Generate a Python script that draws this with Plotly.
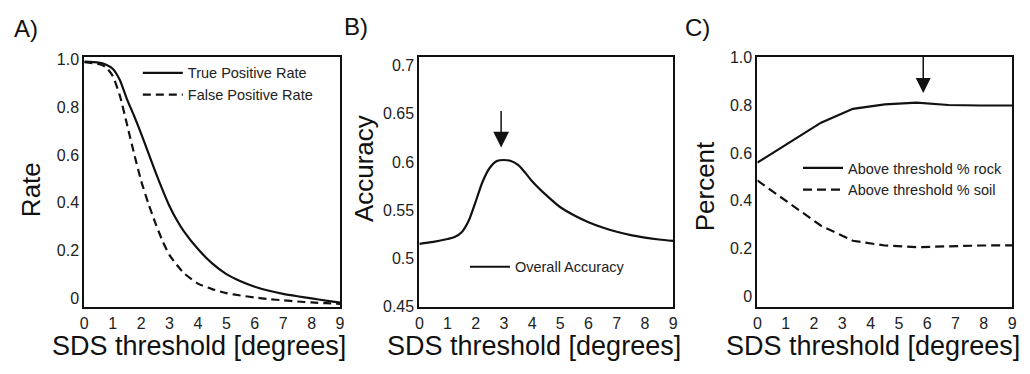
import plotly.graph_objects as go

# ---------------- data ----------------
x_a = [0, 0.5, 0.75, 1, 1.25, 1.5, 1.75, 2, 2.25, 2.5, 2.75, 3, 3.25, 3.5, 4,
       4.5, 5, 5.5, 6, 6.5, 7, 7.5, 8, 8.5, 9]
tpr = [0.992, 0.988, 0.98, 0.962, 0.915, 0.835, 0.765, 0.69, 0.61, 0.53, 0.455,
       0.385, 0.328, 0.28, 0.205, 0.145, 0.10, 0.07, 0.047, 0.03, 0.017, 0.007,
       -0.002, -0.011, -0.02]
fpr = [0.99, 0.982, 0.97, 0.932, 0.85, 0.73, 0.607, 0.492, 0.398, 0.315, 0.24,
       0.18, 0.14, 0.105, 0.06, 0.037, 0.02, 0.01, 0.002, -0.005, -0.01, -0.015,
       -0.019, -0.022, -0.025]

x_b = [0, 0.5, 1, 1.25, 1.5, 1.75, 2, 2.25, 2.5, 2.75, 3, 3.25, 3.5, 3.75, 4,
       4.5, 5, 5.5, 6, 6.5, 7, 7.5, 8, 8.5, 9]
acc = [0.515, 0.517, 0.52, 0.522, 0.527, 0.539, 0.559, 0.58, 0.594, 0.601, 0.602,
       0.601, 0.597, 0.589, 0.58, 0.5655, 0.553, 0.5445, 0.5375, 0.532, 0.5275,
       0.524, 0.5215, 0.5195, 0.518]

x_c = [0, 1.125, 2.25, 3.375, 4.5, 5.625, 6.75, 7.875, 9]
rock = [0.56, 0.645, 0.728, 0.786, 0.805, 0.812, 0.802, 0.80, 0.80]
soil = [0.485, 0.39, 0.295, 0.232, 0.212, 0.205, 0.21, 0.212, 0.213]

x_ticks = [0, 1, 2, 3, 4, 5, 6, 7, 8, 9]
x_ticktext = ["0", "1", "2", "3", "4", "5", "6", "7", "8", "9"]
rate_ticks = [0, 0.2, 0.4, 0.6, 0.8, 1.0]
rate_ticktext = ["0", "0.2", "0.4", "0.6", "0.8", "1.0"]
acc_ticks = [0.45, 0.5, 0.55, 0.6, 0.65, 0.7]
acc_ticktext = ["0.45", "0.5", "0.55", "0.6", "0.65", "0.7"]

arrow_b = (2.9, 0.615)
arrow_c = (5.86, 0.852)

# ---------------- figure ----------------
W, H = 1030, 374
FONT = "Liberation Sans"
BLACK = "#111111"

fig = go.Figure()

fig.add_trace(go.Scatter(x=x_a, y=tpr, mode="lines", name="True Positive Rate",
                         line=dict(color=BLACK, width=2.2, shape="spline", smoothing=0.6),
                         xaxis="x", yaxis="y", legend="legend"))
fig.add_trace(go.Scatter(x=x_a, y=fpr, mode="lines", name="False Positive Rate",
                         line=dict(color=BLACK, width=2.2, dash="8px,5px", shape="spline", smoothing=0.6),
                         xaxis="x", yaxis="y", legend="legend"))
fig.add_trace(go.Scatter(x=x_b, y=acc, mode="lines", name="Overall Accuracy",
                         line=dict(color=BLACK, width=2.2, shape="spline", smoothing=0.8),
                         xaxis="x2", yaxis="y2", legend="legend2"))
fig.add_trace(go.Scatter(x=x_c, y=rock, mode="lines", name="Above threshold % rock",
                         line=dict(color=BLACK, width=2.2),
                         xaxis="x3", yaxis="y3", legend="legend3"))
fig.add_trace(go.Scatter(x=x_c, y=soil, mode="lines", name="Above threshold % soil",
                         line=dict(color=BLACK, width=2.2, dash="9px,5px"),
                         xaxis="x3", yaxis="y3", legend="legend3"))

def px_x(p):
    return p / W

def px_y(p):
    return 1 - p / H

ydom = [px_y(313), px_y(52)]
tickfont = dict(family=FONT, size=16, color="#222222")

common_x = dict(showgrid=False, zeroline=False, showline=True, mirror=True,
                linecolor=BLACK, linewidth=2, ticks="", tickfont=tickfont,
                tickvals=x_ticks, ticktext=x_ticktext, range=[0, 9])
common_y = dict(showgrid=False, zeroline=False, showline=True, mirror=True,
                linecolor=BLACK, linewidth=2, ticks="", tickfont=tickfont)

legfont = dict(family=FONT, size=14.5, color="#222222")

fig.update_layout(
    width=W, height=H,
    margin=dict(l=0, r=0, t=0, b=0),
    paper_bgcolor="white", plot_bgcolor="white",
    font=dict(family=FONT, color=BLACK),
    xaxis=dict(domain=[px_x(81), px_x(339)], anchor="y", **common_x),
    yaxis=dict(domain=ydom, anchor="x", range=[-0.04, 1.012],
               tickvals=rate_ticks, ticktext=rate_ticktext, **common_y),
    xaxis2=dict(domain=[px_x(419), px_x(675)], anchor="y2", **common_x),
    yaxis2=dict(domain=ydom, anchor="x2", range=[0.449, 0.709],
                tickvals=acc_ticks, ticktext=acc_ticktext, **common_y),
    xaxis3=dict(domain=[px_x(760), px_x(1017)], anchor="y3", **common_x),
    yaxis3=dict(domain=ydom, anchor="x3", range=[-0.048, 1.004],
                tickvals=rate_ticks, ticktext=rate_ticktext, **common_y),
    legend=dict(x=px_x(135), y=px_y(52), xanchor="left", yanchor="top",
                bgcolor="rgba(0,0,0,0)", font=legfont, itemwidth=40),
    legend2=dict(x=px_x(465), y=px_y(254), xanchor="left", yanchor="top",
                 bgcolor="rgba(0,0,0,0)", font=legfont, itemwidth=40),
    legend3=dict(x=px_x(801), y=px_y(151), xanchor="left", yanchor="top",
                 bgcolor="rgba(0,0,0,0)", font=legfont, itemwidth=40),
    showlegend=True,
)

ann = []
# panel labels
for lbl, cx, cy in [("A)", 22, 22), ("B)", 355, 20), ("C)", 700, 21)]:
    ann.append(dict(text=lbl, x=px_x(cx), y=px_y(cy), xref="paper", yref="paper",
                    showarrow=False, font=dict(family=FONT, size=24, color=BLACK),
                    xanchor="center", yanchor="middle"))
# x titles
for cx in [197, 535, 877]:
    ann.append(dict(text="SDS threshold [degrees]", x=px_x(cx), y=px_y(353),
                    xref="paper", yref="paper", showarrow=False,
                    font=dict(family=FONT, size=27, color=BLACK),
                    xanchor="center", yanchor="middle"))
# y titles
for t, cx, cy in [("Rate", 28, 190), ("Accuracy", 363, 168), ("Percent", 707, 187)]:
    ann.append(dict(text=t, x=px_x(cx), y=px_y(cy), xref="paper", yref="paper",
                    showarrow=False, textangle=-90,
                    font=dict(family=FONT, size=26, color=BLACK),
                    xanchor="center", yanchor="middle"))
# arrows
ann.append(dict(x=arrow_b[0], y=arrow_b[1], xref="x2", yref="y2", text="",
                showarrow=True, arrowhead=2, arrowsize=2.1, arrowwidth=1.5,
                arrowcolor=BLACK, ax=0, ay=-38))
ann.append(dict(x=arrow_c[0], y=arrow_c[1], xref="x3", yref="y3", text="",
                showarrow=True, arrowhead=2, arrowsize=2.0, arrowwidth=1.5,
                arrowcolor=BLACK, ax=0, ay=-38))
fig.update_layout(annotations=ann)

fig.write_html("out.html")
